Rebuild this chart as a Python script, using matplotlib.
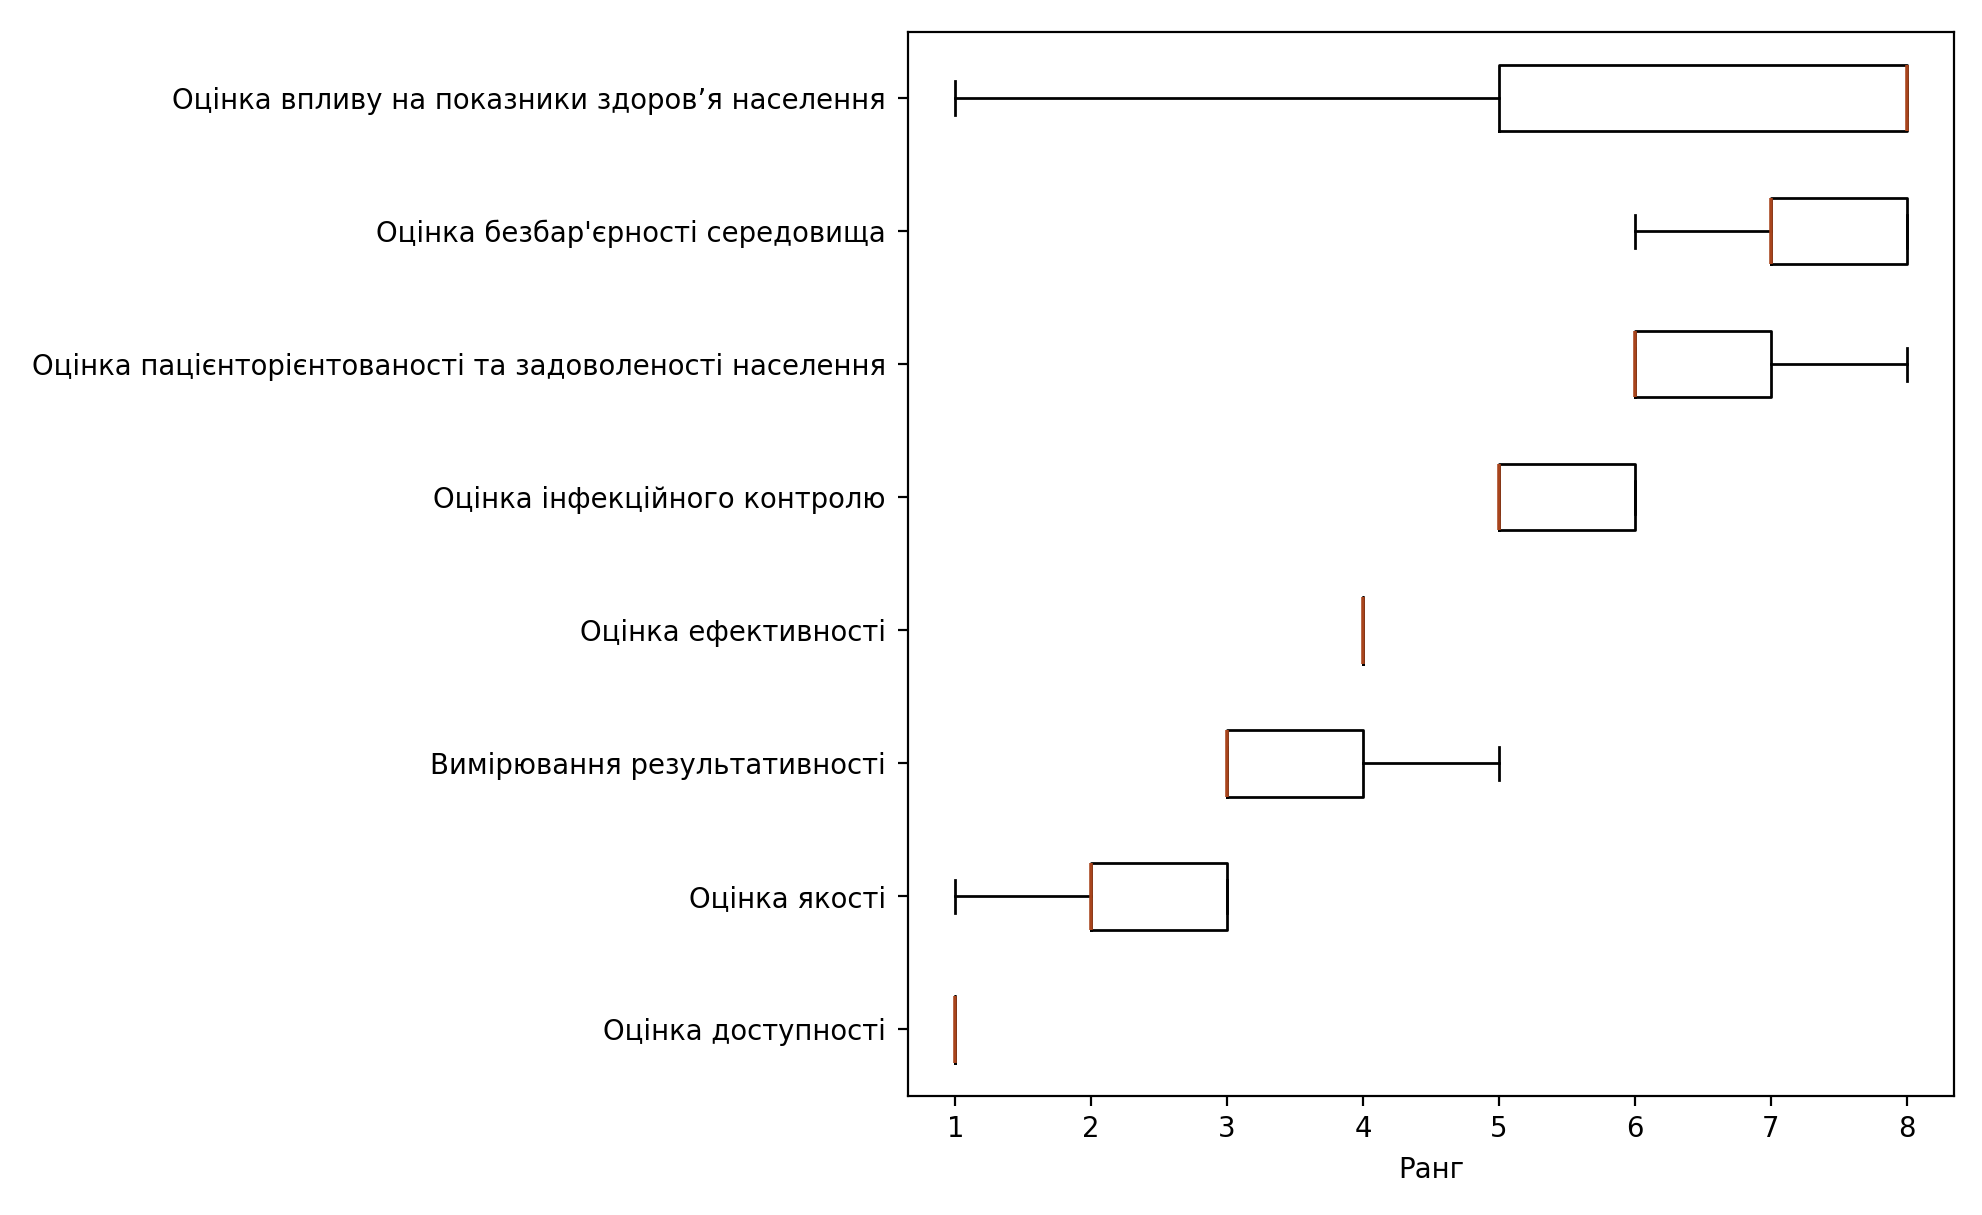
import matplotlib
matplotlib.use('agg')
import matplotlib.pyplot as plt

# categories from bottom to top
categories = [
    'Оцінка доступності',
    'Оцінка якості',
    'Вимірювання результативності',
    'Оцінка ефективності',
    'Оцінка інфекційного контролю',
    'Оцінка пацієнторієнтованості та задоволеності населення',
    "Оцінка безбар'єрності середовища",
    'Оцінка впливу на показники здоров’я населення',
]

# ranks given for each category
access_ranks = [1, 1, 1, 1, 1]
quality_ranks = [1, 2, 2, 3, 3]
results_ranks = [3, 3, 3, 4, 5]
efficiency_ranks = [4, 4, 4, 4, 4]
infection_ranks = [5, 5, 5, 6, 6]
patient_ranks = [6, 6, 6, 7, 8]
barrier_ranks = [6, 7, 7, 8, 8]
health_ranks = [1, 5, 8, 8, 8]

rank_data = [access_ranks, quality_ranks, results_ranks, efficiency_ranks,
             infection_ranks, patient_ranks, barrier_ranks, health_ranks]

s = 1.98  # scale of the whole picture
plt.rcParams['font.family'] = ['DejaVu Sans']
plt.rcParams['font.size'] = 10 * s

fig = plt.figure(figsize=(19.82, 12.15), dpi=100)
ax = fig.add_axes([0.458, 0.098, 0.528, 0.876])

lw = 1.0 * s
ax.boxplot(rank_data, vert=False, labels=categories,
           boxprops=dict(color='black', linewidth=lw),
           whiskerprops=dict(color='black', linewidth=lw),
           capprops=dict(color='black', linewidth=lw),
           medianprops=dict(color='#a8441c', linewidth=lw * 1.3))

ax.set_xlabel('Ранг', labelpad=4.5 * s)
for sp in ax.spines.values():
    sp.set_linewidth(0.8 * s)
ax.tick_params(length=3.5 * s, width=0.8 * s, pad=3.5 * s)
ax.tick_params(axis='y', pad=4.5 * s)

fig.savefig('out.png', dpi=100)
